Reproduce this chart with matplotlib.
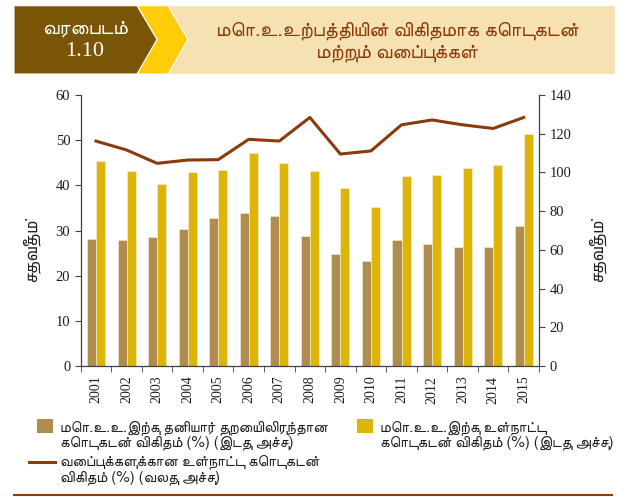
import matplotlib
matplotlib.use("Agg")
import matplotlib.pyplot as plt
from matplotlib import font_manager as fm
from matplotlib.patches import Polygon, Rectangle
from matplotlib.lines import Line2D
import numpy as np

years = ["2001", "2002", "2003", "2004", "2005", "2006", "2007", "2008",
         "2009", "2010", "2011", "2012", "2013", "2014", "2015"]
private_credit = [28.2, 28.0, 28.5, 30.3, 32.7, 33.8, 33.1, 28.8,
                  24.7, 23.2, 27.8, 27.0, 26.4, 26.3, 30.9]
domestic_credit = [45.4, 43.1, 40.2, 42.9, 43.5, 47.1, 44.9, 43.1,
                   39.5, 35.3, 42.1, 42.3, 43.8, 44.4, 51.4]
credit_to_deposits = [116.2, 111.6, 104.7, 106.4, 106.6, 117.1, 116.2, 128.4,
                      109.5, 111.1, 124.6, 127.1, 124.6, 122.7, 128.4]

left_ticks = [0, 10, 20, 30, 40, 50, 60]
right_ticks = [0, 20, 40, 60, 80, 100, 120, 140]

header_label = "வரைபடம்"
header_number = "1.10"
title_lines = ["மொ.உ.உற்பத்தியின் விகிதமாக கொடுகடன்", "மற்றும் வைப்புக்கள்"]
ylabel = "சதவீதம்"
legend_private = ["மொ.உ.உ.இற்கு தனியார் துறையிலிருந்தான", "கொடுகடன் விகிதம் (%) (இடது அச்சு)"]
legend_domestic = ["மொ.உ.உ.இற்கு உள்நாட்டு", "கொடுகடன் விகிதம் (%) (இடது அச்சு)"]
legend_line = ["வைப்புக்களுக்கான உள்நாட்டு கொடுகடன்", "விகிதம் (%) (வலது அச்சு)"]

# find a font with Tamil glyphs if any
tamil_fams = []
for f in fm.fontManager.ttflist:
    n = f.name
    if any(k in n for k in ("Tamil", "Lohit", "FreeSans", "FreeSerif", "Latha", "Vijaya")):
        if n not in tamil_fams:
            tamil_fams.append(n)
TFAM = tamil_fams + ["DejaVu Sans"]
SERIF = ["Liberation Serif", "DejaVu Serif"]

C_PRIV = "#AE8D4E"
C_DOM = "#DDB408"
C_LINE = "#8B3A0C"
C_DARK = "#7A5505"
C_YEL = "#FFCC0A"
C_BEIGE = "#F5E1B1"
C_AX = "#404040"
C_TXT = "#1E1E1E"

W, H = 630, 497
fig = plt.figure(figsize=(W / 100, H / 100), dpi=100)

# background overlay axes in pixel coords
bg = fig.add_axes([0, 0, 1, 1])
bg.set_xlim(0, W)
bg.set_ylim(H, 0)
bg.axis("off")
bg.add_patch(Rectangle((14, 5.7), 601, 68.3, facecolor=C_BEIGE, edgecolor="none"))
bg.add_patch(Polygon([(137, 5.7), (168, 5.7), (188, 39.5), (168, 74), (137, 74), (157, 39.5)],
                     closed=True, facecolor=C_YEL, edgecolor="white", linewidth=0.8))
bg.add_patch(Polygon([(14, 5.7), (137, 5.7), (157, 39.5), (137, 74), (14, 74)],
                     closed=True, facecolor=C_DARK, edgecolor="white", linewidth=0.8))
bg.text(85, 28, header_label, color="white", fontsize=14.5, family=TFAM, ha="center", va="center")
bg.text(85, 52, header_number, color="white", fontsize=16, family=SERIF, ha="center", va="center")
bg.text(397, 30, title_lines[0], color=C_LINE, fontsize=14.5, family=TFAM, ha="center", va="center")
bg.text(397, 53, title_lines[1], color=C_LINE, fontsize=14.5, family=TFAM, ha="center", va="center")

# legend
LFS = 10.9
bg.add_patch(Rectangle((36.7, 419), 16, 14.3, facecolor=C_PRIV, edgecolor="none"))
bg.text(60, 427.5, legend_private[0], fontsize=LFS, family=TFAM, ha="left", va="center", color=C_TXT)
bg.text(60, 442.5, legend_private[1], fontsize=LFS, family=TFAM, ha="left", va="center", color=C_TXT)
bg.add_patch(Rectangle((356.7, 419), 16.6, 14.3, facecolor=C_DOM, edgecolor="none"))
bg.text(380, 427.5, legend_domestic[0], fontsize=LFS, family=TFAM, ha="left", va="center", color=C_TXT)
bg.text(380, 442.5, legend_domestic[1], fontsize=LFS, family=TFAM, ha="left", va="center", color=C_TXT)
bg.add_line(Line2D([29, 55], [461.7, 461.7], color=C_LINE, linewidth=2.2))
bg.text(60, 462, legend_line[0], fontsize=LFS, family=TFAM, ha="left", va="center", color=C_TXT)
bg.text(60, 477.5, legend_line[1], fontsize=LFS, family=TFAM, ha="left", va="center", color=C_TXT)
bg.add_line(Line2D([14, 612], [495, 495], color=C_LINE, linewidth=1.5))

# y labels
bg.text(31, 250, ylabel, fontsize=11, family=TFAM, rotation=90, ha="center", va="center",
        style="italic", weight="bold", color=C_TXT)
bg.text(597, 250, ylabel, fontsize=11, family=TFAM, rotation=90, ha="center", va="center",
        style="italic", weight="bold", color=C_TXT)

# main chart
left, right, bottom, top = 80.7, 539, 366, 95
ax = fig.add_axes([left / W, 1 - bottom / H, (right - left) / W, (bottom - top) / H])
ax.set_zorder(2)
ax.patch.set_alpha(0)
x = np.arange(len(years))
bw = 0.295
ax.bar(x - bw / 2, private_credit, width=bw, color=C_PRIV, edgecolor="#EFE6D2", linewidth=0.5, zorder=2)
ax.bar(x + bw / 2, domestic_credit, width=bw, color=C_DOM, edgecolor="#F5EBC8", linewidth=0.5, zorder=2)
ax.set_xlim(-0.5, len(years) - 0.5)
ax.set_ylim(0, 60)
ax.set_yticks(left_ticks)
ax.set_xticks(x)
ax.set_xticklabels(years, rotation=90, family=SERIF, fontsize=10)
ax.set_xticks(np.arange(-0.5, len(years), 1.0), minor=True)
ax.tick_params(axis="x", which="major", length=0, pad=7, colors=C_TXT)
ax.tick_params(axis="x", which="minor", length=4, direction="out", color=C_AX)
ax.tick_params(axis="y", length=4, direction="out", color=C_AX, labelsize=10.5, labelcolor=C_TXT)
for lab in ax.get_yticklabels():
    lab.set_family(SERIF)
for s in ["top", "right"]:
    ax.spines[s].set_visible(False)
for s in ["left", "bottom"]:
    ax.spines[s].set_color(C_AX)
    ax.spines[s].set_linewidth(0.9)

ax2 = ax.twinx()
ax2.plot(x, credit_to_deposits, color=C_LINE, linewidth=2.2, zorder=3)
ax2.set_ylim(0, 140)
ax2.set_yticks(right_ticks)
ax2.tick_params(axis="y", length=4, direction="out", color=C_AX, labelsize=10.5, labelcolor=C_TXT)
for lab in ax2.get_yticklabels():
    lab.set_family(SERIF)
for s in ["top", "left", "bottom"]:
    ax2.spines[s].set_visible(False)
ax2.spines["right"].set_color(C_AX)
ax2.spines["right"].set_linewidth(0.9)

fig.savefig("out.png", dpi=100)
